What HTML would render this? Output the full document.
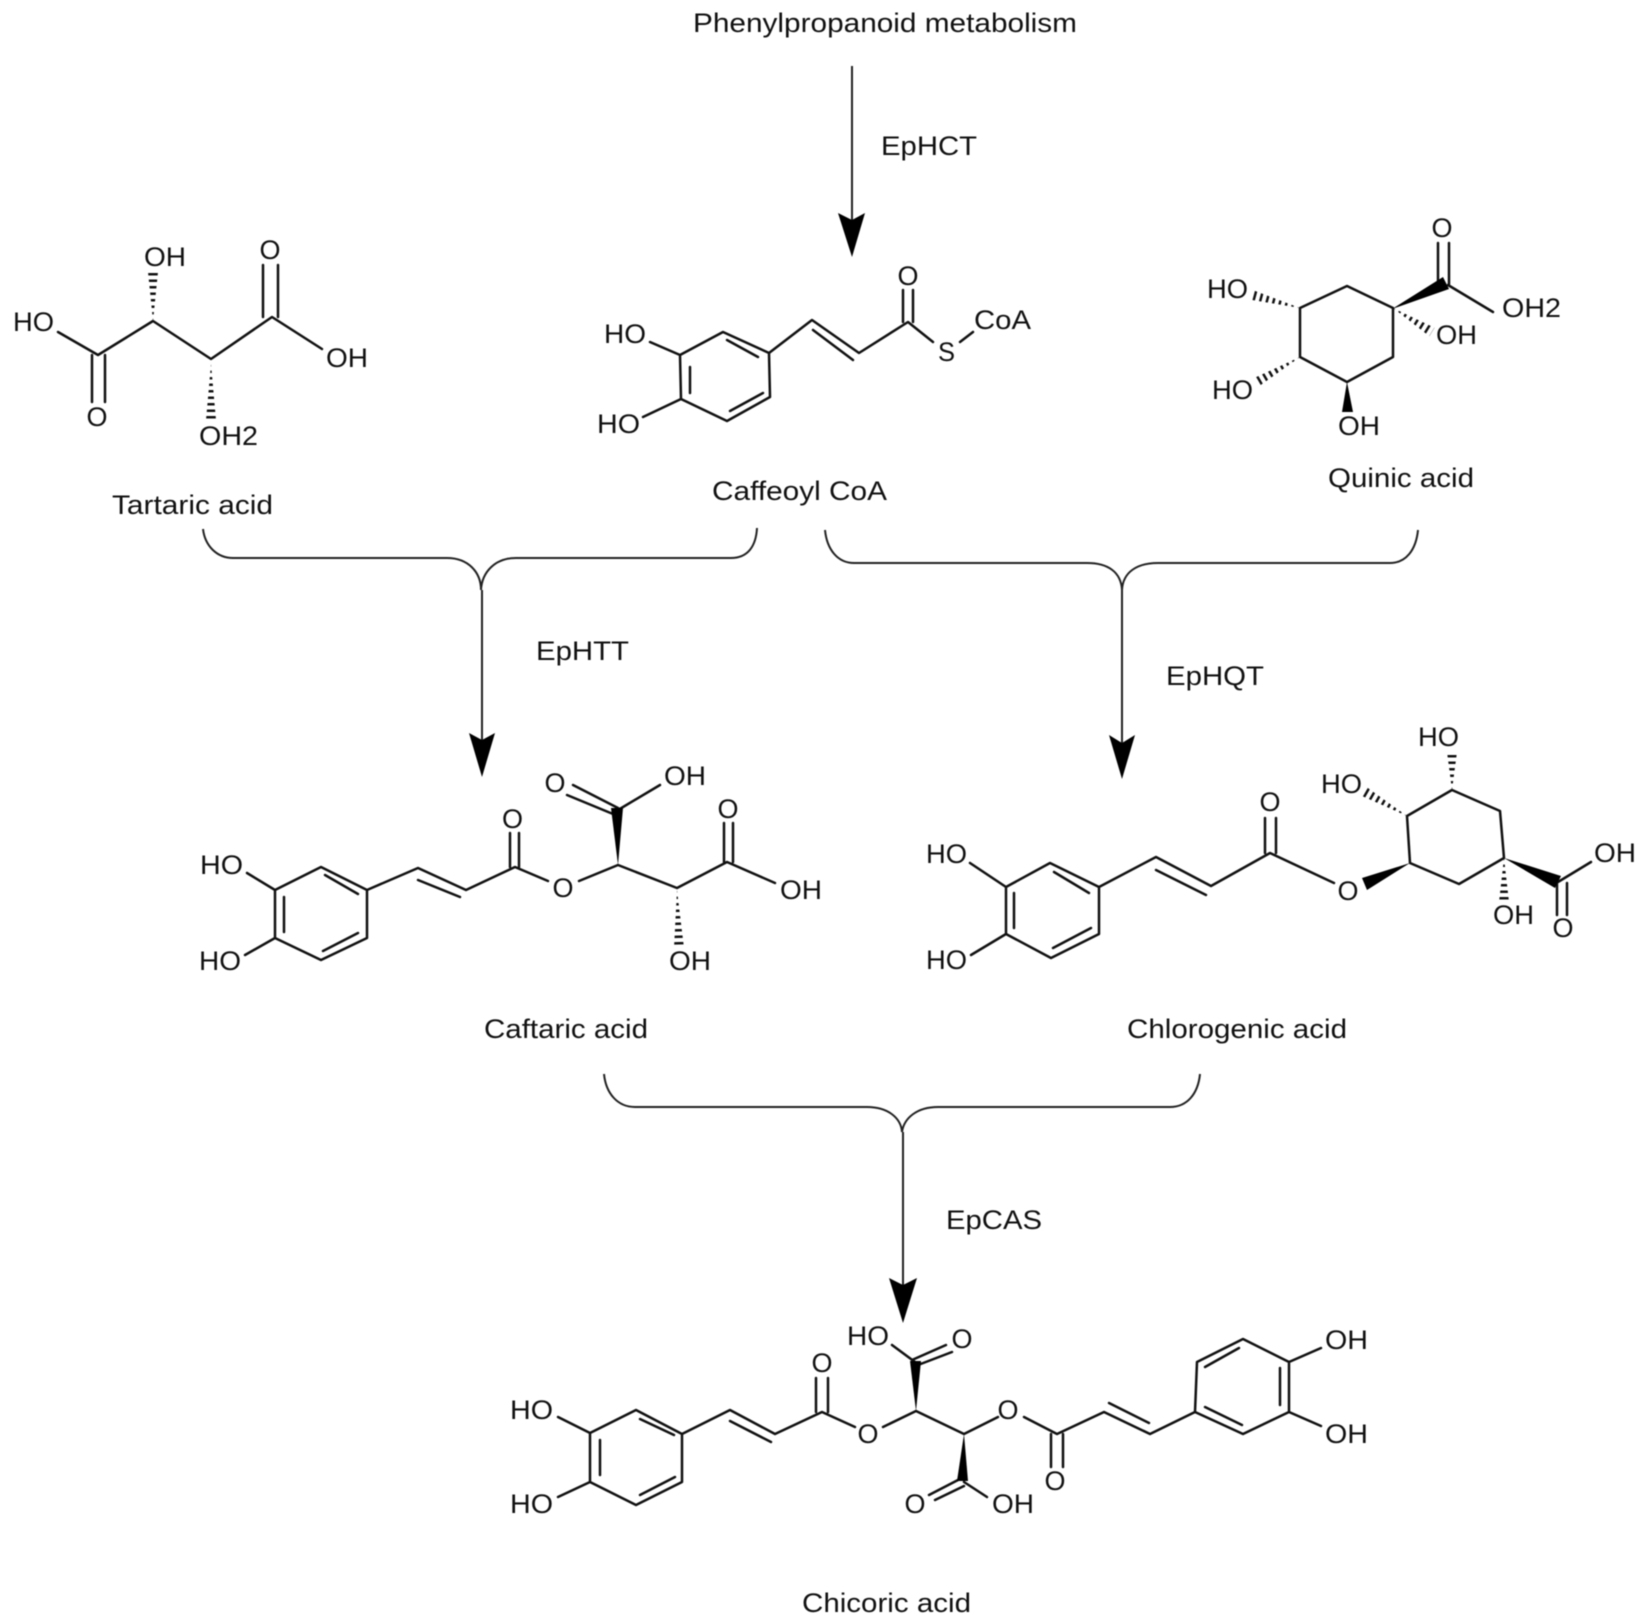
<!DOCTYPE html>
<html><head><meta charset="utf-8"><title>Chicoric acid pathway</title>
<style>
html,body{margin:0;padding:0;background:#fff}
svg{display:block;filter:blur(.6px)}
text{font-family:"Liberation Sans",sans-serif;font-size:27px;fill:#111}
.b{stroke:#111;stroke-width:2.5;fill:none;stroke-linecap:round;stroke-linejoin:round}
.c{stroke:#222;stroke-width:2;fill:none}
.w{fill:#000}
.h{stroke:#111;stroke-dasharray:2.5 4;fill:none}
</style></head><body>
<svg xmlns="http://www.w3.org/2000/svg" width="1649" height="1624" viewBox="0 0 1649 1624">
<rect width="1649" height="1624" fill="#fff"/>
<defs>
<clipPath id="h1"><polygon points="153,321 148,272 158,272"/></clipPath>
<clipPath id="h2"><polygon points="211,364 206,420 216,420"/></clipPath>
<clipPath id="h3"><polygon points="1393,308 1429.4,336.3 1434.6,327.7"/></clipPath>
<clipPath id="h4"><polygon points="1300,308 1253.3,290.2 1250.7,299.8"/></clipPath>
<clipPath id="h5"><polygon points="1300,357 1257.5,387.3 1252.5,378.7"/></clipPath>
<clipPath id="h6"><polygon points="677,890 674,948 684,948"/></clipPath>
<clipPath id="h7"><polygon points="1407,816 1367.5,787.7 1362.5,796.3"/></clipPath>
<clipPath id="h8"><polygon points="1452,790 1447,752 1457,752"/></clipPath>
<clipPath id="h9"><polygon points="1504,858 1499,902 1509,902"/></clipPath>
</defs>

<!-- Arrows and brackets -->
<path class="c" d="M852 66V222"/>
<polygon class="w" points="838,213 852,220 865,213 852,257"/>
<path class="c" d="M203 529C205 546 217 558 233 558L447 558C468 558 481 572 481 590C482 572 495 558 516 558L731 558C748 558 756 546 757 528"/>
<path class="c" d="M482 590V745"/>
<polygon class="w" points="469,733 482,740 495,733 482,777"/>
<path class="c" d="M825 530C827 550 838 563 854 563L1087 563C1108 563 1121 572 1122 590C1123 572 1137 563 1158 563L1390 563C1406 563 1416 550 1418 530"/>
<path class="c" d="M1122 590V748"/>
<polygon class="w" points="1109,735 1122,743 1135,735 1122,779"/>
<path class="c" d="M604 1074C606 1094 618 1107 635 1107L867 1107C888 1107 901 1118 902 1132C904 1118 917 1107 938 1107L1170 1107C1187 1107 1198 1094 1200 1074"/>
<path class="c" d="M903 1132V1290"/>
<polygon class="w" points="889,1278 903,1285 917,1278 903,1323"/>

<!-- Tartaric acid -->
<path class="b" d="M58 332L98 355L153 321L211 359L272 317L322 349M92 355V402M105 355V402M263 265V317M278 265V317"/>
<line class="h" x1="153" y1="321" x2="153" y2="272" stroke-width="12" clip-path="url(#h1)"/>
<line class="h" x1="211" y1="364" x2="211" y2="420" stroke-width="12" clip-path="url(#h2)"/>
<text x="13" y="331" textLength="41" lengthAdjust="spacingAndGlyphs">HO</text>
<text x="144" y="266" textLength="42" lengthAdjust="spacingAndGlyphs">OH</text>
<text x="270" y="259" text-anchor="middle">O</text>
<text x="326" y="367" textLength="42" lengthAdjust="spacingAndGlyphs">OH</text>
<text x="97" y="426" text-anchor="middle">O</text>
<text x="199" y="445" textLength="59" lengthAdjust="spacingAndGlyphs">OH2</text>
<text x="112" y="514" textLength="161" lengthAdjust="spacingAndGlyphs">Tartaric acid</text>

<!-- Title and Caffeoyl CoA -->
<text x="693" y="32" textLength="384" lengthAdjust="spacingAndGlyphs">Phenylpropanoid metabolism</text>
<text x="881" y="155" textLength="96" lengthAdjust="spacingAndGlyphs">EpHCT</text>
<path class="b" d="M680 355L723 332L769 353L770 397L727 421L681 399ZM690 367V393M727 340L758 357M763 393L730 411M769 353L812 320L859 353L908 322L933 342M813 330L853 360M903 290V322M913 290V322M960 342L973 332M650 342L680 355M643 417L681 399"/>
<text x="908" y="285" text-anchor="middle">O</text>
<text x="938" y="361" textLength="17" lengthAdjust="spacingAndGlyphs">S</text>
<text x="974" y="329" textLength="57" lengthAdjust="spacingAndGlyphs">CoA</text>
<text x="604" y="343" textLength="42" lengthAdjust="spacingAndGlyphs">HO</text>
<text x="597" y="433" textLength="43" lengthAdjust="spacingAndGlyphs">HO</text>
<text x="712" y="500" textLength="175" lengthAdjust="spacingAndGlyphs">Caffeoyl CoA</text>

<!-- Quinic acid -->
<path class="b" d="M1300 308L1347 286L1393 308V357L1347 382L1300 357ZM1438 243V282M1449 243V284M1448 285L1493 312"/>
<polygon class="w" points="1392,309 1449,289 1443,277"/>
<polygon class="w" points="1347,382 1342,412 1353,412"/>
<line class="h" x1="1393" y1="308" x2="1432" y2="332" stroke-width="12" clip-path="url(#h3)"/>
<line class="h" x1="1300" y1="308" x2="1252" y2="295" stroke-width="12" clip-path="url(#h4)"/>
<line class="h" x1="1300" y1="357" x2="1255" y2="383" stroke-width="12" clip-path="url(#h5)"/>
<text x="1442" y="237" text-anchor="middle">O</text>
<text x="1502" y="317" textLength="59" lengthAdjust="spacingAndGlyphs">OH2</text>
<text x="1436" y="344" textLength="41" lengthAdjust="spacingAndGlyphs">OH</text>
<text x="1207" y="298" textLength="41" lengthAdjust="spacingAndGlyphs">HO</text>
<text x="1212" y="399" textLength="41" lengthAdjust="spacingAndGlyphs">HO</text>
<text x="1338" y="435" textLength="42" lengthAdjust="spacingAndGlyphs">OH</text>
<text x="1328" y="487" textLength="146" lengthAdjust="spacingAndGlyphs">Quinic acid</text>

<text x="536" y="660" textLength="93" lengthAdjust="spacingAndGlyphs">EpHTT</text>
<text x="1166" y="685" textLength="98" lengthAdjust="spacingAndGlyphs">EpHQT</text>

<!-- Caftaric acid -->
<path class="b" d="M275 890L321 867L367 890V938L321 960L275 938ZM284 897V932M325 875L358 894M358 933L323 951M367 890L418 868L466 890L515 867L548 881M418 880L460 897M510 833V867M519 833V867M579 881L618 865L677 888L727 862L775 883M724 823V862M733 823V862M618 810L660 785M618 808L573 785M613 814L567 795M247 873L275 890M245 955L275 938"/>
<polygon class="w" points="618,865 611,808 623,808"/>
<line class="h" x1="678" y1="890" x2="679" y2="948" stroke-width="12" clip-path="url(#h6)"/>
<text x="512.500" y="828" text-anchor="middle">O</text>
<text x="563" y="897" text-anchor="middle">O</text>
<text x="780" y="899" textLength="42" lengthAdjust="spacingAndGlyphs">OH</text>
<text x="728" y="818" text-anchor="middle">O</text>
<text x="669" y="970" textLength="42" lengthAdjust="spacingAndGlyphs">OH</text>
<text x="664" y="785" textLength="42" lengthAdjust="spacingAndGlyphs">OH</text>
<text x="555" y="792" text-anchor="middle">O</text>
<text x="200" y="874" textLength="43" lengthAdjust="spacingAndGlyphs">HO</text>
<text x="199" y="970" textLength="42" lengthAdjust="spacingAndGlyphs">HO</text>
<text x="484" y="1038" textLength="164" lengthAdjust="spacingAndGlyphs">Caftaric acid</text>

<!-- Chlorogenic acid -->
<path class="b" d="M1006 887L1050 863L1099 887V934L1051 958L1006 934ZM1014 893V928M1054 872L1089 893M1091 928L1053 948M1099 887L1156 857L1211 886L1270 853L1334 883M1156 870L1206 895M1265 818V853M1276 818V853M1410 863L1407 816L1452 790L1500 811L1504 858L1459 884ZM1558 882L1591 862M1557 883V915M1567 883V915M970 863L1006 887M971 955L1006 934"/>
<polygon class="w" points="1410,863 1367,890 1362,878"/>
<polygon class="w" points="1504,858 1555,888 1561,876"/>
<line class="h" x1="1407" y1="816" x2="1365" y2="792" stroke-width="12" clip-path="url(#h7)"/>
<line class="h" x1="1452" y1="790" x2="1452" y2="752" stroke-width="12" clip-path="url(#h8)"/>
<line class="h" x1="1504" y1="858" x2="1504" y2="902" stroke-width="12" clip-path="url(#h9)"/>
<text x="1270" y="811" text-anchor="middle">O</text>
<text x="1348" y="900" text-anchor="middle">O</text>
<text x="1321" y="793" textLength="41" lengthAdjust="spacingAndGlyphs">HO</text>
<text x="1418" y="746" textLength="41" lengthAdjust="spacingAndGlyphs">HO</text>
<text x="1493" y="924" textLength="41" lengthAdjust="spacingAndGlyphs">OH</text>
<text x="1594" y="862" textLength="42" lengthAdjust="spacingAndGlyphs">OH</text>
<text x="1563" y="937" text-anchor="middle">O</text>
<text x="926" y="863" textLength="41" lengthAdjust="spacingAndGlyphs">HO</text>
<text x="926" y="969" textLength="41" lengthAdjust="spacingAndGlyphs">HO</text>
<text x="1127" y="1038" textLength="220" lengthAdjust="spacingAndGlyphs">Chlorogenic acid</text>

<text x="946" y="1229" textLength="96" lengthAdjust="spacingAndGlyphs">EpCAS</text>

<!-- Chicoric acid -->
<path class="b" d="M590 1433L636 1410L682 1434V1482L636 1505L590 1482ZM600 1440V1475M640 1419L674 1435M675 1477L640 1495M682 1434L730 1410L775 1434L822 1412L855 1427M730 1421L771 1442M816 1378V1412M828 1378V1412M883 1427L916 1411L964 1434L998 1417M1024 1417L1057 1434L1104 1412L1150 1434L1195 1412M1051 1434V1467M1063 1434V1467M1109 1403L1149 1423M1195 1412L1243 1434L1289 1412V1362L1243 1339L1197 1362ZM1280 1368V1405M1205 1407L1242 1425M1205 1367L1239 1348M1289 1362L1321 1348M1289 1412L1321 1426M915 1362L892 1345M912 1360L946 1345M918 1365L952 1352M958 1480L929 1495M964 1486L935 1500M964 1482L987 1497M558 1417L590 1433M558 1497L590 1482"/>
<polygon class="w" points="916,1411 910,1361 921,1361"/>
<polygon class="w" points="964,1434 957,1481 968,1481"/>
<text x="822" y="1372" text-anchor="middle">O</text>
<text x="868" y="1443" text-anchor="middle">O</text>
<text x="1008" y="1419" text-anchor="middle">O</text>
<text x="1055" y="1490" text-anchor="middle">O</text>
<text x="1325" y="1349" textLength="43" lengthAdjust="spacingAndGlyphs">OH</text>
<text x="1325" y="1443" textLength="43" lengthAdjust="spacingAndGlyphs">OH</text>
<text x="847" y="1345" textLength="42" lengthAdjust="spacingAndGlyphs">HO</text>
<text x="962" y="1348" text-anchor="middle">O</text>
<text x="915" y="1513" text-anchor="middle">O</text>
<text x="992" y="1513" textLength="42" lengthAdjust="spacingAndGlyphs">OH</text>
<text x="510" y="1419" textLength="43" lengthAdjust="spacingAndGlyphs">HO</text>
<text x="510" y="1513" textLength="43" lengthAdjust="spacingAndGlyphs">HO</text>
<text x="802" y="1612" textLength="169" lengthAdjust="spacingAndGlyphs">Chicoric acid</text>
</svg>
</body></html>
